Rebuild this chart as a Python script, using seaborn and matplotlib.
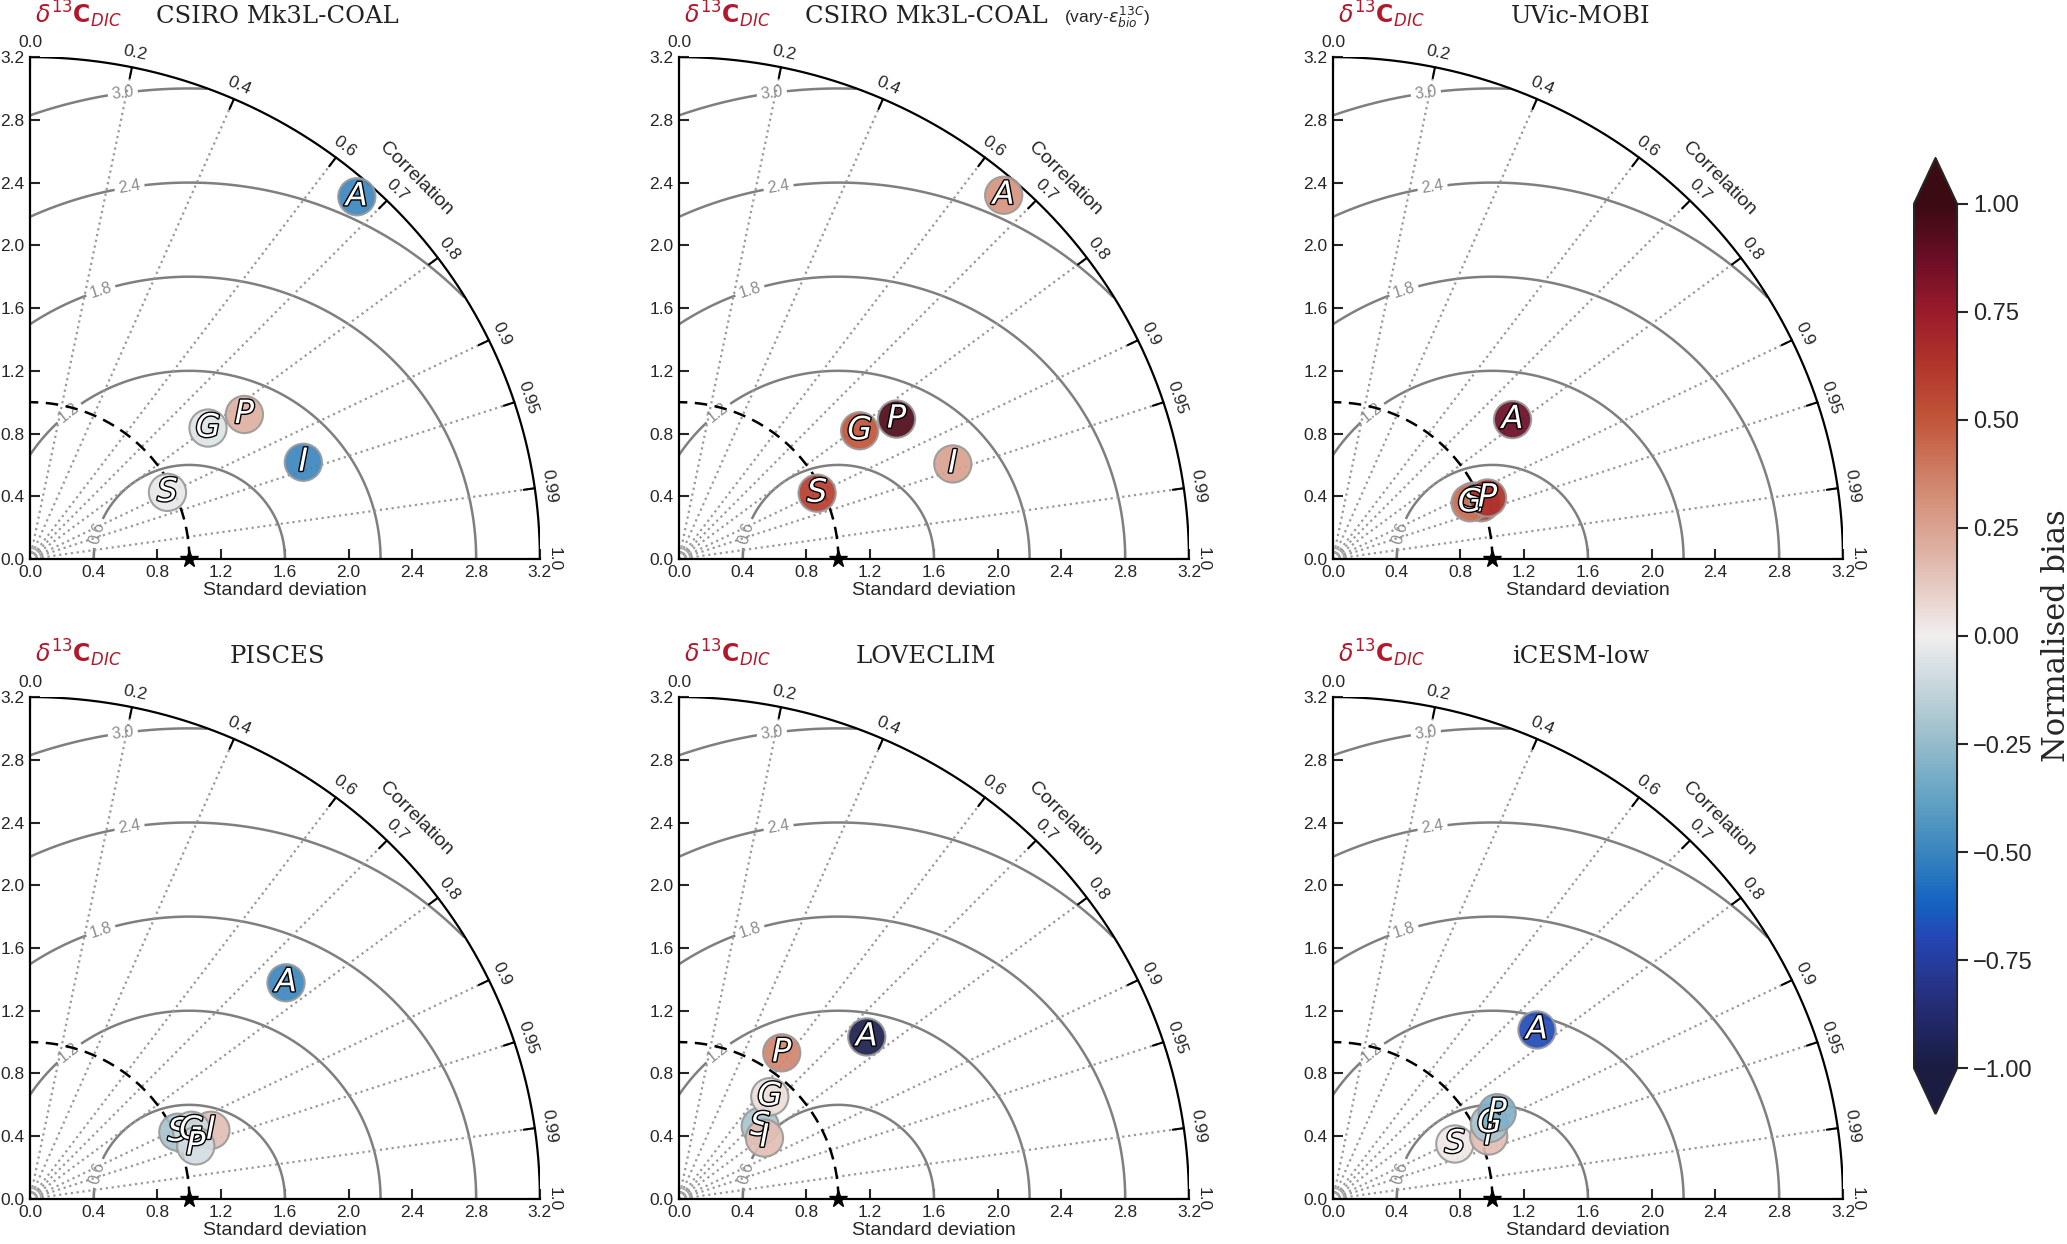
import numpy as np
import matplotlib
matplotlib.use("Agg")
import matplotlib.pyplot as plt
import matplotlib.patheffects as pe
from matplotlib.colors import LinearSegmentedColormap, Normalize
import seaborn as sns

# point labels (drawn in this order in every panel)
letters = ["S", "I", "G", "P", "A"]

titles = ["CSIRO Mk3L-COAL", "CSIRO Mk3L-COAL", "UVic-MOBI",
          "PISCES", "LOVECLIM", "iCESM-low"]

# standard deviation, correlation and normalised bias per model (S, I, G, P, A)
csiro_std = [0.962, 1.823, 1.395, 1.631, 3.089]
csiro_corr = [0.897, 0.941, 0.801, 0.825, 0.664]
csiro_bias = [-0.03, -0.50, -0.05, 0.20, -0.50]

csiro_vary_std = [0.963, 1.822, 1.398, 1.631, 3.087]
csiro_vary_corr = [0.900, 0.943, 0.811, 0.837, 0.660]
csiro_vary_bias = [0.60, 0.25, 0.50, 0.95, 0.30]

uvic_std = [0.955, 0.997, 0.932, 1.045, 1.435]
uvic_corr = [0.922, 0.933, 0.923, 0.928, 0.785]
uvic_bias = [0.45, 0.55, 0.40, 0.65, 0.88]

pisces_std = [1.021, 1.217, 1.104, 1.094, 2.117]
pisces_corr = [0.909, 0.933, 0.918, 0.951, 0.759]
pisces_bias = [-0.20, 0.15, -0.10, -0.08, -0.50]

loveclim_std = [0.689, 0.662, 0.866, 1.133, 1.567]
loveclim_corr = [0.740, 0.810, 0.658, 0.569, 0.752]
loveclim_bias = [-0.20, 0.15, 0.05, 0.35, -0.97]

icesm_std = [0.841, 1.056, 1.093, 1.168, 1.673]
icesm_corr = [0.909, 0.925, 0.898, 0.882, 0.765]
icesm_bias = [0.02, 0.15, -0.20, -0.30, -0.68]

# axis / grid values
std_ticks = [0.0, 0.4, 0.8, 1.2, 1.6, 2.0, 2.4, 2.8, 3.2]
corr_ticks = [0.0, 0.2, 0.4, 0.6, 0.7, 0.8, 0.9, 0.95, 0.99, 1.0]
corr_labels = ["0.0", "0.2", "0.4", "0.6", "0.7", "0.8", "0.9", "0.95", "0.99", "1.0"]
rms_levels = [0.6, 1.2, 1.8, 2.4, 3.0]
rms_label_angles = [164, 129, 108, 99, 98]   # where the contour labels sit (deg, around ref point)
bias_ticks = [-1.0, -0.75, -0.5, -0.25, 0.0, 0.25, 0.5, 0.75, 1.0]

REF_STD = 1.0
RMAX = 3.2

panels = [
    (csiro_std, csiro_corr, csiro_bias),
    (csiro_vary_std, csiro_vary_corr, csiro_vary_bias),
    (uvic_std, uvic_corr, uvic_bias),
    (pisces_std, pisces_corr, pisces_bias),
    (loveclim_std, loveclim_corr, loveclim_bias),
    (icesm_std, icesm_corr, icesm_bias),
]

# diverging map close to cmocean "balance"
balance = LinearSegmentedColormap.from_list("balance_like", [
    (0.00, "#1a1c42"), (0.08, "#262f7c"), (0.15, "#2546b6"), (0.19, "#1463c1"),
    (0.25, "#3a86be"), (0.32, "#6aa6c4"), (0.40, "#a8c5cf"), (0.50, "#f1eeee"),
    (0.60, "#deb0a2"), (0.66, "#d48f79"), (0.75, "#c2573a"), (0.82, "#b0332a"),
    (0.875, "#9b1b2c"), (0.94, "#6a0d25"), (1.00, "#3b0b13")])
norm = Normalize(-1, 1)

sns.set_style("ticks")
plt.rcParams["font.family"] = ["Liberation Sans", "DejaVu Sans"]
plt.rcParams["mathtext.fontset"] = "dejavusans"

fig = plt.figure(figsize=(20.67, 12.44), dpi=100)

lefts = [0.0145, 0.3285, 0.6449]
bottoms = [0.5506, 0.0362]
W, H = 0.2467, 0.4035

t = np.linspace(0, np.pi / 2, 400)
grid = np.linspace(0, RMAX, 500)
GX, GY = np.meshgrid(grid, grid)
RMS = np.hypot(GX - REF_STD, GY)
RMS = np.ma.masked_where(np.hypot(GX, GY) > RMAX, RMS)

for i, (std, corr, bias) in enumerate(panels):
    ax = fig.add_axes([lefts[i % 3], bottoms[i // 3], W, H])
    ax.set_xlim(0, RMAX)
    ax.set_ylim(0, RMAX)

    # centred RMS difference contours
    cs = ax.contour(GX, GY, RMS, levels=rms_levels, colors="#7f7f7f",
                    linewidths=1.8, zorder=1)
    pos = [(REF_STD + lv * np.cos(np.radians(a)), lv * np.sin(np.radians(a)))
           for lv, a in zip(rms_levels, rms_label_angles)]
    ax.clabel(cs, rms_levels, manual=pos, inline=True, fmt="%.1f",
              fontsize=11.5, colors="#8c8c8c", inline_spacing=4)

    # correlation rays
    for c in corr_ticks[1:-1]:
        th = np.arccos(c)
        ax.plot([0, RMAX * np.cos(th)], [0, RMAX * np.sin(th)], ls=":",
                color="#9a9a9a", lw=1.6, zorder=1)
    for r in [0.04, 0.07]:
        ax.plot(r * np.cos(t), r * np.sin(t), color="#aaaaaa", lw=1.2, zorder=1)

    # outer arc, reference arc and star
    ax.plot(RMAX * np.cos(t), RMAX * np.sin(t), color="black", lw=1.6, zorder=2)
    ax.plot(REF_STD * np.cos(t), REF_STD * np.sin(t), color="black", lw=1.8,
            ls=(0, (5, 3)), zorder=3)
    ax.plot([REF_STD], [0], marker="*", color="black", ms=13, clip_on=False, zorder=8)

    # correlation ticks on the arc
    for c, lab in zip(corr_ticks, corr_labels):
        th = np.arccos(c)
        ax.plot([(RMAX - 0.07) * np.cos(th), RMAX * np.cos(th)],
                [(RMAX - 0.07) * np.sin(th), RMAX * np.sin(th)],
                color="black", lw=1.5, zorder=2)
        ax.text(3.29 * np.cos(th), 3.29 * np.sin(th), lab, fontsize=12.5,
                rotation=np.degrees(th) - 90, rotation_mode="anchor",
                ha="center", va="center")
    ax.text(3.43 * np.cos(np.pi / 4), 3.43 * np.sin(np.pi / 4), "Correlation",
            fontsize=14, rotation=-45, rotation_mode="anchor",
            ha="center", va="center")

    # model points
    std = np.asarray(std)
    corr = np.asarray(corr)
    xs = std * corr
    ys = std * np.sqrt(1 - corr ** 2)
    sns.scatterplot(x=xs, y=ys, hue=bias, palette=balance, hue_norm=norm,
                    s=720, edgecolor="#9a9a9a", linewidth=1.5, alpha=0.92,
                    legend=False, ax=ax, zorder=5)
    for x, y, L in zip(xs, ys, letters):
        ax.text(x, y, L, fontsize=23, style="italic", family="DejaVu Sans",
                color="white", ha="center", va="center", zorder=7,
                path_effects=[pe.withStroke(linewidth=2.0, foreground="black")])

    # axes
    ax.set_xticks(std_ticks)
    ax.set_yticks(std_ticks)
    ax.set_xticklabels([f"{v:.1f}" for v in std_ticks])
    ax.set_yticklabels([f"{v:.1f}" for v in std_ticks])
    ax.tick_params(direction="in", length=7, width=1.5, labelsize=12.5, pad=4)
    for s in ["top", "right"]:
        ax.spines[s].set_visible(False)
    for s in ["left", "bottom"]:
        ax.spines[s].set_linewidth(1.6)
        ax.spines[s].set_color("black")
    ax.set_xlabel("Standard deviation", fontsize=14, labelpad=2)
    ax.set_ylabel("")

    # titles
    ax.text(0.01, 1.068, r"$\delta^{13}\mathbf{C}_{DIC}$", transform=ax.transAxes,
            color="#b2182b", fontsize=17, va="baseline", ha="left")
    ax.text(0.485, 1.068, titles[i], transform=ax.transAxes, fontsize=17.5,
            family="DejaVu Serif", va="baseline", ha="center", color="#222222")
    if i == 1:
        ax.text(0.755, 1.068, r"(vary-$\varepsilon_{bio}^{13C}$)",
                transform=ax.transAxes, fontsize=12.5, va="baseline", ha="left")

# colour bar
cax = fig.add_axes([0.926, 0.1045, 0.0208, 0.7685])
sm = plt.cm.ScalarMappable(norm=norm, cmap=balance)
cb = fig.colorbar(sm, cax=cax, extend="both", extendfrac=0.053, ticks=bias_ticks)
cb.outline.set_linewidth(1.5)
cb.ax.tick_params(labelsize=17, length=8, width=1.5)
cb.set_label("Normalised bias", fontsize=22, family="DejaVu Serif", labelpad=6)

fig.savefig("out.png", dpi=100)
